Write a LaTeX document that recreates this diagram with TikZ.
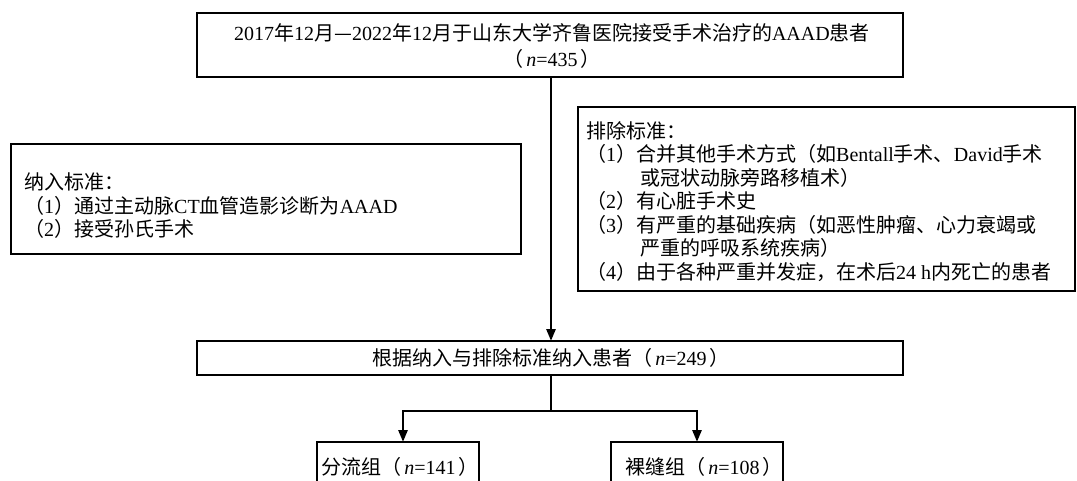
\documentclass[tikz,border=0pt]{standalone}
\usepackage{fontspec}
\setmainfont{Noto Sans CJK SC}
\newfontfamily\latf{Liberation Serif}
\usetikzlibrary{arrows.meta}
\newcommand\lt[1]{{\latf #1}}
\newcommand\nn{{\latf\itshape n}}
\begin{document}
\begin{tikzpicture}[x=1pt,y=-1pt,
  box/.style={draw,line width=1.5pt,inner sep=0pt,outer sep=0pt},
  txt/.style={inner sep=0pt,align=left,anchor=west,font=\fontsize{20}{23.5}\selectfont},
  ctxt/.style={inner sep=0pt,align=center,font=\fontsize{20}{26}\selectfont},
  arr/.style={line width=2.6pt,-{Triangle[length=12pt,width=9pt]}},
  ln/.style={line width=2.6pt}]
\clip (0,0) rectangle (1077,480);
\fill[white] (0,0) rectangle (1077,480);
% boxes
\node[box,minimum width=706pt,minimum height=64pt] (top) at (550,45) {};
\node[ctxt] (toptext) at (552,46) {\lt{2017}年\lt{12}月—\lt{2022}年\lt{12}月于山东大学齐鲁医院接受手术治疗的\lt{AAAD}患者\\（\,\nn\lt{=435}\,）};
\node[box,minimum width=510pt,minimum height=110pt] (inc) at (266,199) {};
\node[txt] (inctext) at (24,206) {纳入标准：\\（\lt{1}）通过主动脉\lt{CT}血管造影诊断为\lt{AAAD}\\（\lt{2}）接受孙氏手术};
\node[box,minimum width=497pt,minimum height=184pt] (exc) at (826.5,199) {};
\node[txt] (exctext) at (586,201.5) {排除标准：\\（\lt{1}）合并其他手术方式（如\lt{Bentall}手术、\lt{David}手术\\\hspace*{2.7em}或冠状动脉旁路移植术）\\（\lt{2}）有心脏手术史\\（\lt{3}）有严重的基础疾病（如恶性肿瘤、心力衰竭或\\\hspace*{2.7em}严重的呼吸系统疾病）\\（\lt{4}）由于各种严重并发症，在术后\lt{24 h}内死亡的患者};
\node[box,minimum width=706pt,minimum height=34pt] (mid) at (550,358) {};
\node[ctxt] (midtext) at (551,358) {根据纳入与排除标准纳入患者（\,\nn\lt{=249}\,）};
\node[box,minimum width=162pt,minimum height=60pt] (g1) at (398,472) {};
\node[ctxt] (g1text) at (400,467) {分流组（\,\nn\lt{=141}\,）};
\node[box,minimum width=172pt,minimum height=60pt] (g2) at (697,472) {};
\node[ctxt] (g2text) at (704,467) {裸缝组（\,\nn\lt{=108}\,）};
% connectors
\coordinate (split) at (551,411);
\draw[arr] (top.south -| split) -- (mid.north -| split);
\draw[ln] (mid.south -| split) -- (split);
\draw[arr] (split) -| ([xshift=5pt]g1.north);
\draw[arr] (split) -| (g2.north);
\end{tikzpicture}
\end{document}
